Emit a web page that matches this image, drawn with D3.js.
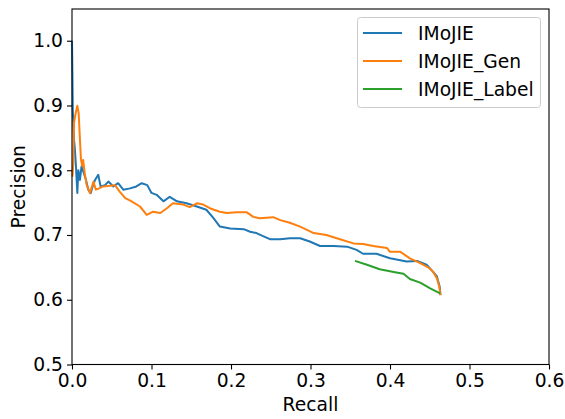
<!DOCTYPE html>
<html><head><meta charset="utf-8">
<script src="https://cdn.jsdelivr.net/npm/d3@7"></script>
<style>body{margin:0;background:#fff}svg{display:block}text{font-family:"DejaVu Sans",sans-serif;fill:#000}</style>
</head><body>
<script>
const seriesNames = ["IMoJIE", "IMoJIE_Gen", "IMoJIE_Label"];
const seriesColors = ["#1f77b4", "#ff7f0e", "#2ca02c"];
const xTicks = [0.0, 0.1, 0.2, 0.3, 0.4, 0.5, 0.6];
const yTicks = [0.5, 0.6, 0.7, 0.8, 0.9, 1.0];

const imojieRecall = [0.0, 0.0005, 0.001, 0.0025, 0.0035, 0.005, 0.0067, 0.008, 0.010, 0.012, 0.015, 0.0176, 0.0205, 0.0235, 0.026, 0.029, 0.033, 0.036, 0.0415, 0.0457, 0.052, 0.058, 0.0645, 0.073, 0.081, 0.0877, 0.0947, 0.100, 0.1065, 0.115, 0.123, 0.132, 0.144, 0.157, 0.169, 0.178, 0.186, 0.199, 0.216, 0.224, 0.232, 0.241, 0.249, 0.262, 0.274, 0.287, 0.299, 0.312, 0.329, 0.346, 0.358, 0.366, 0.383, 0.400, 0.421, 0.434, 0.446, 0.454, 0.459, 0.4625, 0.4635];
const imojiePrecision = [1.0, 0.95, 0.893, 0.847, 0.835, 0.806, 0.765, 0.80, 0.785, 0.806, 0.795, 0.785, 0.770, 0.7645, 0.775, 0.785, 0.793, 0.775, 0.777, 0.7825, 0.775, 0.780, 0.770, 0.772, 0.775, 0.780, 0.777, 0.765, 0.762, 0.752, 0.759, 0.752, 0.749, 0.744, 0.739, 0.726, 0.713, 0.710, 0.709, 0.705, 0.703, 0.698, 0.6935, 0.6935, 0.695, 0.695, 0.690, 0.683, 0.683, 0.682, 0.677, 0.671, 0.671, 0.664, 0.659, 0.660, 0.654, 0.6435, 0.636, 0.620, 0.607];

const genRecall = [0.0005, 0.0017, 0.0025, 0.0046, 0.0067, 0.0084, 0.010, 0.0113, 0.013, 0.014, 0.016, 0.0185, 0.0226, 0.027, 0.030, 0.034, 0.039, 0.048, 0.054, 0.060, 0.067, 0.075, 0.0855, 0.094, 0.102, 0.111, 0.119, 0.127, 0.140, 0.148, 0.157, 0.165, 0.174, 0.186, 0.195, 0.207, 0.220, 0.228, 0.236, 0.253, 0.262, 0.274, 0.287, 0.304, 0.320, 0.337, 0.354, 0.366, 0.379, 0.396, 0.400, 0.413, 0.425, 0.438, 0.448, 0.454, 0.459, 0.462, 0.4635];
const genPrecision = [0.79, 0.811, 0.873, 0.888, 0.8995, 0.888, 0.847, 0.816, 0.806, 0.816, 0.7955, 0.777, 0.7645, 0.7825, 0.770, 0.772, 0.775, 0.776, 0.777, 0.767, 0.757, 0.752, 0.744, 0.731, 0.736, 0.734, 0.741, 0.749, 0.747, 0.743, 0.749, 0.747, 0.741, 0.736, 0.734, 0.735, 0.735, 0.728, 0.726, 0.7275, 0.723, 0.719, 0.713, 0.703, 0.700, 0.6935, 0.687, 0.686, 0.683, 0.680, 0.674, 0.674, 0.664, 0.6565, 0.650, 0.6435, 0.633, 0.620, 0.607];

const labelRecall = [0.356, 0.371, 0.387, 0.408, 0.417, 0.425, 0.438, 0.450, 0.463];
const labelPrecision = [0.660, 0.654, 0.647, 0.642, 0.640, 0.632, 0.6265, 0.618, 0.610];

const W = 565, H = 419;
const FS = 18.7;
const m = {left: 72, right: 549, top: 9, bottom: 364.5};
const svg = d3.select("body").append("svg").attr("width", W).attr("height", H);
const x = d3.scaleLinear().domain([0, 0.6]).range([m.left, m.right]);
const y = d3.scaleLinear().domain([0.5, 1.049]).range([m.bottom, m.top]);

const series = [
  {name: seriesNames[0], color: seriesColors[0], xs: imojieRecall, ys: imojiePrecision},
  {name: seriesNames[1], color: seriesColors[1], xs: genRecall, ys: genPrecision},
  {name: seriesNames[2], color: seriesColors[2], xs: labelRecall, ys: labelPrecision}
];
const line = d3.line().x(d => x(d[0])).y(d => y(d[1]));
const plot = svg.append("g");
series.forEach(s => {
  plot.append("path").datum(s.xs.map((v, i) => [v, s.ys[i]]))
    .attr("d", line).attr("fill", "none").attr("stroke", s.color)
    .attr("stroke-width", 2).attr("stroke-linejoin", "round");
});

const xa = svg.append("g").attr("transform", `translate(0,${m.bottom})`)
  .call(d3.axisBottom(x).tickValues(xTicks).tickFormat(d3.format(".1f")).tickSize(5).tickPadding(4));
const ya = svg.append("g").attr("transform", `translate(${m.left},0)`)
  .call(d3.axisLeft(y).tickValues(yTicks).tickFormat(d3.format(".1f")).tickSize(5).tickPadding(4));
[xa, ya].forEach(a => {
  a.select(".domain").remove();
  a.selectAll("text").attr("font-size", FS).attr("font-family", "DejaVu Sans");
  a.selectAll("line").attr("stroke", "#000").attr("stroke-width", 1.1);
});
svg.append("rect").attr("x", m.left).attr("y", m.top)
  .attr("width", m.right - m.left).attr("height", m.bottom - m.top)
  .attr("fill", "none").attr("stroke", "#000").attr("stroke-width", 1.1);

svg.append("text").attr("x", (m.left + m.right) / 2).attr("y", 411)
  .attr("text-anchor", "middle").attr("font-size", FS).text("Recall");
svg.append("text").attr("transform", `translate(25,${(m.top + m.bottom) / 2}) rotate(-90)`)
  .attr("text-anchor", "middle").attr("font-size", FS).text("Precision");

const lg = svg.append("g");
lg.append("rect").attr("x", 357.5).attr("y", 17.5).attr("width", 183).attr("height", 90)
  .attr("rx", 3).attr("fill", "#fff").attr("fill-opacity", 0.8).attr("stroke", "#ccc");
series.forEach((s, i) => {
  const cy = 33 + i * 28;
  lg.append("line").attr("x1", 363).attr("x2", 402).attr("y1", cy).attr("y2", cy)
    .attr("stroke", s.color).attr("stroke-width", 2);
  lg.append("text").attr("x", 418).attr("y", cy + 6.5).attr("font-size", FS).text(s.name);
});
</script>
</body></html>
